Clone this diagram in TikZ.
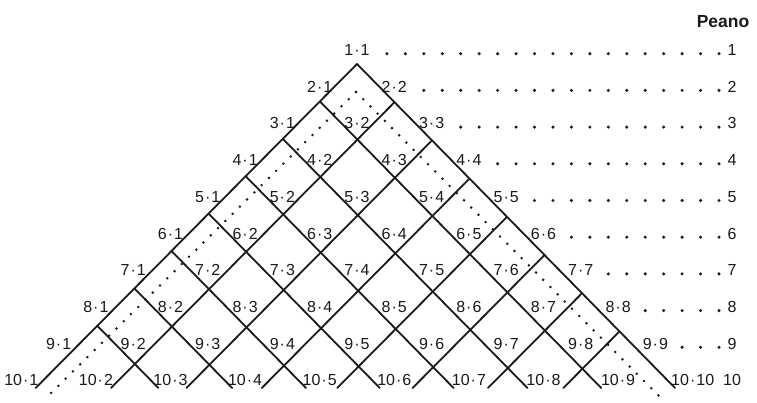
\documentclass[tikz,border=0pt]{standalone}
\usepackage{fontspec}
\setmainfont{Liberation Sans}
\definecolor{ink}{HTML}{1A1A1A}
\begin{document}
\begin{tikzpicture}[x=1pt,y=-1pt,
  gridline/.style={line width=1.8pt, draw=ink, line cap=round},
  lab/.style={font=\fontsize{16}{18}\selectfont, text=ink, inner sep=0pt, anchor=center},
  title/.style={font=\fontsize{17.5}{19}\selectfont\bfseries, text=ink, inner sep=0pt, anchor=center},
  vdots/.style={draw=ink, line width=2.8pt, line cap=round, dash pattern=on 0pt off 10.2pt}]
\useasboundingbox (0,0) rectangle (757,403);
\fill[white] (0,0) rectangle (757,403);

% grid lines
\foreach \k in {0,...,7} {
  \pgfmathsetmacro\sxA{357-37.1*\k}
  \pgfmathsetmacro\syA{64+37.4*\k}
  \pgfmathsetmacro\tA{(388-\syA)/38.2}
  \draw[gridline] (\sxA,\syA) -- ++({37.5*\tA},{38.2*\tA});
  \pgfmathsetmacro\sxB{357+37.5*\k}
  \pgfmathsetmacro\syB{64+38.2*\k}
  \pgfmathsetmacro\tB{(388-\syB)/37.4}
  \draw[gridline] (\sxB,\syB) -- ++({-37.1*\tB},{37.4*\tB});
}

% dotted V path
\coordinate (vtop) at (356,92);
\coordinate (vleft) at (46,398);
\coordinate (vright) at (663,400);
\draw[vdots] (vtop) -- (vleft);
\draw[vdots] (vtop) -- (vright);

% cell labels
\foreach \ri in {1,...,10} {
  \foreach \ci in {1,...,\ri} {
    \pgfmathsetmacro\lx{357+37.3*(2*\ci-\ri-1)}
    \pgfmathsetmacro\ly{50+36.7*(\ri-1)}
    \node[lab] (c\ri-\ci) at (\lx,\ly) {\ri\kern1pt·\kern1pt\ci};
  }
}

% Peano column
\node[title] (peano) at (723,22) {Peano};
\foreach \ri in {1,...,10} {
  \pgfmathsetmacro\ly{50+36.7*(\ri-1)}
  \node[lab] (p\ri) at (732,\ly) {\ri};
}
\foreach \ri in {1,...,9} {
  \pgfmathsetmacro\cx{357+37.3*(\ri-1)}
  \pgfmathsetmacro\ly{50+36.7*(\ri-1)+3.7}
  \ifnum\ri=1
    \def\K{18}
  \else
    \pgfmathtruncatemacro\K{floor((719-\cx-18)/18.45)}
  \fi
  \foreach \q in {0,...,\K} {
    \fill[ink] ({719-18.45*\q},\ly) circle (1.7);
  }
}
\end{tikzpicture}
\end{document}
